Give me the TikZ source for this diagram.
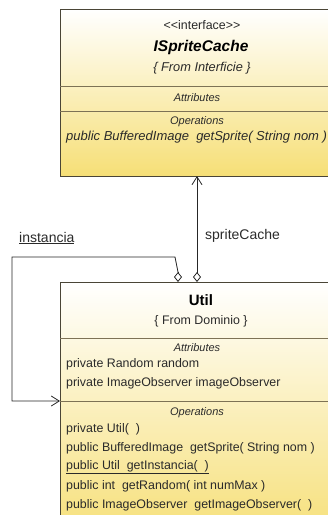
\documentclass[tikz,border=0pt]{standalone}
\usepackage{fontspec}
\setmainfont{Liberation Sans}
\usetikzlibrary{arrows.meta}
\definecolor{umlyellow}{HTML}{F6DF76}
\definecolor{umlborder}{HTML}{4A4536}
\definecolor{umlsep}{HTML}{7D7255}
\definecolor{umltext}{HTML}{2A2A2A}
\tikzset{dm/.tip={Diamond[open,length=10pt,width=8pt]},
         bb/.tip={Straight Barb[length=8pt,width=10pt]}}
\begin{document}
\begin{tikzpicture}[x=1pt,y=-1pt,
  umlbox/.style={draw=umlborder, line width=0.9pt, top color=white, bottom color=umlyellow, anchor=north west, inner sep=0pt},
  septext/.style={font=\fontsize{11}{13}\selectfont\itshape, text=umltext, inner sep=0pt},
  member/.style={font=\fontsize{12.4}{14}\selectfont, text=umltext, anchor=west, inner sep=0pt},
  cmember/.style={font=\fontsize{12.4}{14}\selectfont, text=umltext, inner sep=0pt},
  title/.style={font=\fontsize{15}{17}\selectfont\bfseries, text=black, inner sep=0pt},
  lbl/.style={font=\fontsize{14}{16}\selectfont, text=umltext, inner sep=0pt},
  conn/.style={draw=black!85, line width=0.8pt}]
\useasboundingbox (0,0) rectangle (328,515);
\clip (0,0) rectangle (328,515);
% top box
\node[umlbox, minimum width=290pt, minimum height=167pt] (cache) at (60,9) {};
\draw[umlsep, line width=0.8pt] (60,86) -- (350,86) (60,111) -- (350,111);
\node[cmember] (cst) at (202,25) {{<}{<}interface{>}{>}};
\node[title, font=\fontsize{15.5}{17}\selectfont\bfseries\itshape] (cname) at (201,47) {ISpriteCache};
\node[cmember, font=\fontsize{12.8}{14}\selectfont\itshape] (cfrom) at (202,68) {\{ From Interficie \}};
\node[septext] (cattr) at (197,98) {Attributes};
\node[septext] (cops) at (197,122) {Operations};
\node[member, font=\fontsize{13}{15}\selectfont\itshape] (cop1) at (66,137) {public BufferedImage\ \ getSprite( String nom )};
% bottom box
\node[umlbox, minimum width=290pt, minimum height=260pt] (util) at (60,282) {};
\draw[umlsep, line width=0.8pt] (60,338) -- (350,338) (60,401) -- (350,401);
\node[title] (uname) at (201,300) {Util};
\node[cmember] (ufrom) at (201,321) {\{ From Dominio \}};
\node[septext] (uattr) at (197,348) {Attributes};
\node[member] (ua1) at (66,364) {private Random random};
\node[member] (ua2) at (66,383) {private ImageObserver imageObserver};
\node[septext] (uops) at (197,413) {Operations};
\node[member] (uo1) at (66,429) {private Util(\ \ )};
\node[member] (uo2) at (66,448) {public BufferedImage\ \ getSprite( String nom )};
\node[member] (uo3) at (66,467) {\underline{public Util\ \ getInstancia(\ \ )}};
\node[member] (uo4) at (66,486) {public int\ \ getRandom( int numMax )};
\node[member] (uo5) at (66,505) {public ImageObserver\ \ getImageObserver(\ \ )};
% connectors
\coordinate (d1) at (197,282);
\coordinate (a1) at (197,176);
\draw[conn, dm-bb] (d1) -- (a1);
\node[lbl, anchor=west] (lsc) at (205,236) {spriteCache};
\coordinate (d2) at (178,282);
\coordinate (k1) at (178,272);
\coordinate (k2) at (175,257);
\coordinate (k3) at (12,257);
\coordinate (k4) at (12,401);
\coordinate (a2) at (60,401);
\draw[conn, dm-] (d2) -- (k1);
\draw[conn, -bb] (k1) -- (k2) -- (k3) -- (k4) -- (a2);
\node[lbl, anchor=west] (linst) at (19,238) {\underline{instancia}};
\end{tikzpicture}
\end{document}
